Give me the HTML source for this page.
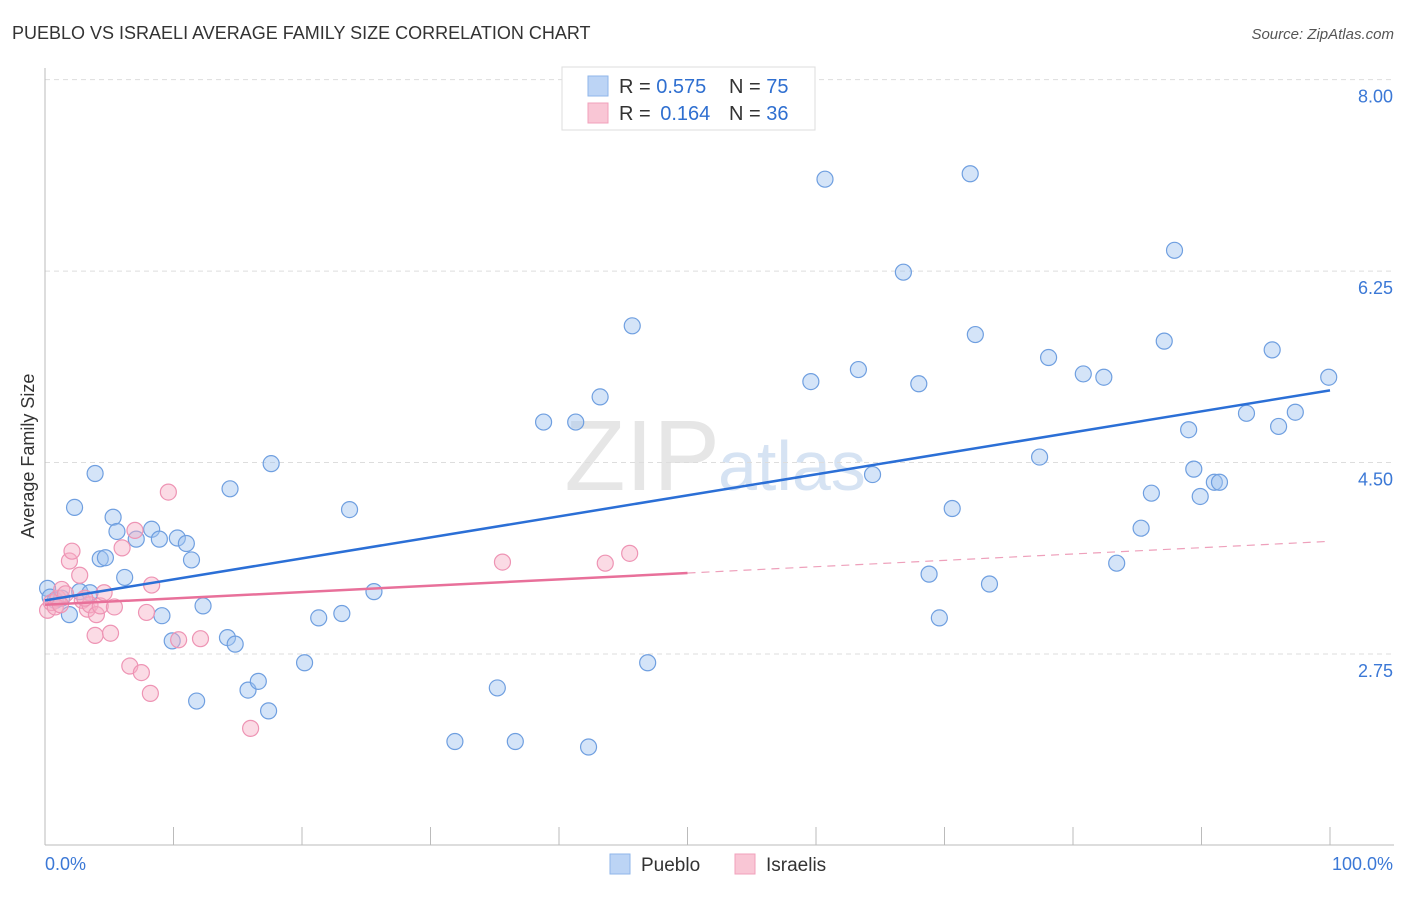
<!DOCTYPE html>
<html><head><meta charset="utf-8"><style>
body{margin:0;background:#fff;font-family:"Liberation Sans",sans-serif;}
svg text{font-family:"Liberation Sans",sans-serif;}
</style></head><body>
<svg id="chart" width="1406" height="892" xmlns="http://www.w3.org/2000/svg">
<text x="12" y="39" font-size="18" fill="#333">PUEBLO VS ISRAELI AVERAGE FAMILY SIZE CORRELATION CHART</text>
<text x="1394" y="39" font-size="15" fill="#555" font-style="italic" text-anchor="end">Source: ZipAtlas.com</text>
<text x="720" y="490" font-size="100" fill="#e6e6e6" text-anchor="end" font-family="Liberation Serif">ZIP</text>
<text x="718" y="490" font-size="70" fill="#d6e3f3">atlas</text>
<text transform="translate(34,456) rotate(-90)" font-size="18" fill="#333" text-anchor="middle">Average Family Size</text>
<g id="grid"></g><g id="axes"></g><g id="pts"></g><g id="lines"></g>
<g>
<rect x="562" y="67" width="253" height="63" fill="#fff" stroke="#ddd"/>
<rect x="588" y="76" width="20" height="20" fill="#bcd4f5" stroke="#8fb6ea"/>
<rect x="588" y="103" width="20" height="20" fill="#f9c6d5" stroke="#f1a0bb"/>
<text x="619" y="93" font-size="20" fill="#333">R = <tspan fill="#2f6fd0">0.575</tspan><tspan x="729">N = </tspan><tspan fill="#2f6fd0">75</tspan></text>
<text x="619" y="120" font-size="20" fill="#333">R = <tspan fill="#2f6fd0" dx="4">0.164</tspan><tspan x="729">N = </tspan><tspan fill="#2f6fd0">36</tspan></text>
</g>
<g>
<rect x="610" y="854" width="20" height="20" fill="#bcd4f5" stroke="#8fb6ea"/>
<text x="641" y="871" font-size="19" fill="#333">Pueblo</text>
<rect x="735" y="854" width="20" height="20" fill="#f9c6d5" stroke="#f1a0bb"/>
<text x="766" y="871" font-size="19" fill="#333">Israelis</text>
</g>
</svg>
<script>
const yTicks=[2.75,4.50,6.25,8.00];
const yTickLabels=["2.75","4.50","6.25","8.00"];
const xTicks=[0,10,20,30,40,50,60,70,80,90,100];
const puebloX=[0.2,0.4,0.8,1.3,1.9,2.3,2.7,3.5,3.9,4.3,4.7,5.3,5.6,6.2,7.1,8.3,8.9,9.1,9.9,10.3,11.0,11.4,11.8,12.3,14.2,14.4,14.8,15.8,16.6,17.4,17.6,20.2,21.3,23.1,23.7,25.6,31.9,35.2,36.6,38.8,41.3,42.3,43.2,45.7,46.9,59.6,60.7,63.3,64.4,66.8,68.0,68.8,69.6,70.6,72.0,72.4,73.5,77.4,78.1,80.8,82.4,83.4,85.3,86.1,87.1,87.9,89.0,89.4,89.9,91.0,91.4,93.5,95.5,96.0,97.3,99.9];
const puebloY=[3.35,3.27,3.24,3.26,3.11,4.09,3.32,3.31,4.40,3.62,3.63,4.00,3.87,3.45,3.80,3.89,3.80,3.10,2.87,3.81,3.76,3.61,2.32,3.19,2.90,4.26,2.84,2.42,2.50,2.23,4.49,2.67,3.08,3.12,4.07,3.32,1.95,2.44,1.95,4.87,4.87,1.90,5.10,5.75,2.67,5.24,7.09,5.35,4.39,6.24,5.22,3.48,3.08,4.08,7.14,5.67,3.39,4.55,5.46,5.31,5.28,3.58,3.90,4.22,5.61,6.44,4.80,4.44,4.19,4.32,4.32,4.95,5.53,4.83,4.96,5.28];
const israeliX=[0.2,0.5,0.8,1.0,1.3,1.6,1.9,2.1,2.7,2.9,3.3,3.5,3.9,4.0,4.3,4.6,5.1,5.4,6.0,6.6,7.0,7.5,7.9,8.3,8.2,9.6,10.4,12.1,16.0,35.6,43.6,45.5,3.1,1.2];
const israeliY=[3.15,3.22,3.18,3.26,3.34,3.30,3.60,3.69,3.47,3.24,3.16,3.20,2.92,3.11,3.19,3.31,2.94,3.18,3.72,2.64,3.88,2.58,3.13,3.38,2.39,4.23,2.88,2.89,2.07,3.59,3.58,3.67,3.26,3.20];
const trendPueblo=[3.24,5.16];
const trendIsraeli=[3.20,3.78];
const X0=45,X1=1330;
const xs=v=>X0+(X1-X0)*v/100;
const ys=v=>654-(v-2.75)*109.4;
const NS="http://www.w3.org/2000/svg";
function mk(tag,attrs,parent){const e=document.createElementNS(NS,tag);for(const k in attrs)e.setAttribute(k,attrs[k]);document.getElementById(parent).appendChild(e);return e;}
yTicks.forEach((t,i)=>{
 const g=mk('line',{x1:45,x2:1394,y1:ys(t),y2:ys(t),stroke:'#ddd','stroke-dasharray':'5,4'},'grid');
 
 
 const l=mk('text',{x:1393,y:ys(t)+23,'font-size':18,fill:'#3b78d6','text-anchor':'end'},'grid');
 l.textContent=yTickLabels[i];
 
 
});
const ax=mk('line',{x1:45,x2:45,y1:68,y2:845,stroke:'#bbb'},'axes');


const bx=mk('line',{x1:45,x2:1394,y1:845,y2:845,stroke:'#bbb'},'axes');


xTicks.forEach(t=>{const e=mk('line',{x1:xs(t),x2:xs(t),y1:827,y2:845,stroke:'#bbb'},'axes');

});
const xl0=mk('text',{x:45,y:870,'font-size':18,fill:'#3b78d6'},'axes');xl0.textContent='0.0%';


const xl1=mk('text',{x:1393,y:870,'font-size':18,fill:'#3b78d6','text-anchor':'end'},'axes');xl1.textContent='100.0%';


puebloX.forEach((x,i)=>{const c=mk('circle',{cx:xs(x),cy:ys(puebloY[i]),r:8,fill:'rgba(160,195,240,0.45)',stroke:'#6f9fe0','stroke-width':1.2},'pts');

});
israeliX.forEach((x,i)=>{const c=mk('circle',{cx:xs(x),cy:ys(israeliY[i]),r:8,fill:'rgba(246,175,198,0.45)',stroke:'#ee94b4','stroke-width':1.2},'pts');

});
const tp=mk('line',{x1:xs(0),y1:ys(trendPueblo[0]),x2:xs(100),y2:ys(trendPueblo[1]),stroke:'#2b6fd6','stroke-width':2.5},'lines');


const mid=(trendIsraeli[0]+trendIsraeli[1])/2;
const ti=mk('line',{x1:xs(0),y1:ys(trendIsraeli[0]),x2:xs(50),y2:ys(mid),stroke:'#e8709a','stroke-width':2.5},'lines');


const td=mk('line',{x1:xs(50),y1:ys(mid),x2:xs(100),y2:ys(trendIsraeli[1]),stroke:'#eea0bb','stroke-width':1.2,'stroke-dasharray':'8,6'},'lines');


</script>
</body></html>
